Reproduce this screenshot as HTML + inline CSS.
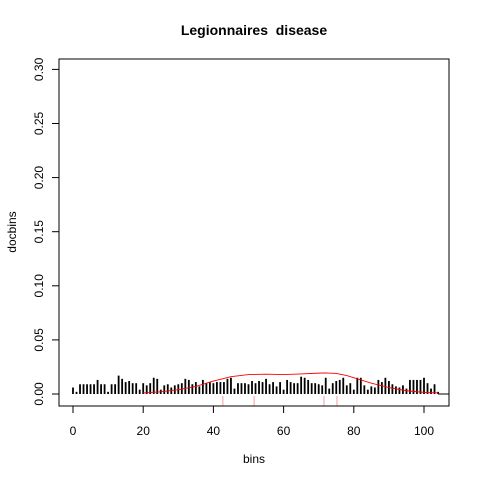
<!DOCTYPE html>
<html><head><meta charset="utf-8"><style>
body{margin:0;background:#fff}
svg{font-family:"Liberation Sans",sans-serif}
</style></head><body>
<svg id="c" width="480" height="480">
<text x="254" y="35" text-anchor="middle" font-weight="bold" font-size="14" style="white-space:pre">Legionnaires  disease</text>
<text x="254" y="463" text-anchor="middle" font-size="12">bins</text>
<text transform="translate(16,232) rotate(-90)" text-anchor="middle" font-size="12">docbins</text>
<rect x="59" y="59" width="390" height="347" fill="none" stroke="#000"/>
<g id="bars"></g>
<g id="axes"></g>
</svg>
<script>
const values=[0.006,0.002,0.009,0.009,0.009,0.009,0.009,0.013,0.009,0.009,0.002,0.009,0.009,0.017,0.014,0.011,0.012,0.010,0.010,0.004,0.010,0.008,0.010,0.015,0.014,0.004,0.008,0.009,0.006,0.008,0.009,0.010,0.014,0.013,0.009,0.011,0.007,0.013,0.010,0.011,0.010,0.011,0.011,0.011,0.014,0.015,0.005,0.010,0.010,0.010,0.009,0.012,0.010,0.012,0.011,0.014,0.009,0.011,0.007,0.011,0.004,0.013,0.011,0.010,0.010,0.016,0.015,0.013,0.010,0.010,0.009,0.008,0.015,0.005,0.010,0.012,0.013,0.015,0.008,0.010,0.004,0.015,0.015,0.008,0.004,0.007,0.006,0.013,0.011,0.015,0.012,0.009,0.007,0.006,0.008,0.005,0.013,0.013,0.013,0.013,0.015,0.010,0.005,0.009,0.002];
const curveX=[20,25,30,35,40,45,50,55,60,65,70,72,75,78,81,85,90,95,100,104];
const curveY=[0.001,0.002,0.004,0.007,0.012,0.016,0.018,0.0183,0.018,0.0185,0.0193,0.0195,0.019,0.017,0.014,0.010,0.006,0.003,0.0015,0.001];
const rug=[42.7,51.6,71.5,75.2];
const xTicks=[0,20,40,60,80,100];
const yTicks=[0,0.05,0.10,0.15,0.20,0.25,0.30];
const yLabels=["0.00","0.05","0.10","0.15","0.20","0.25","0.30"];
const X=v=>73+v*3.51, Y=v=>394-v*1082;
const NS="http://www.w3.org/2000/svg";
const bars=document.getElementById('bars'), axes=document.getElementById('axes');
function mk(t,a,p){const e=document.createElementNS(NS,t);for(const k in a)e.setAttribute(k,a[k]);(p||axes).appendChild(e);return e;}
values.forEach((v,i)=>{
 const r=mk('rect',{x:X(i)-0.9,y:Y(v),width:1.8,height:Y(0)-Y(v),fill:'#000'},bars);
 
 
});
const bl=mk('line',{x1:X(104),x2:449,y1:Y(0),y2:Y(0),stroke:'#000'});


const pl=mk('polyline',{points:curveX.map((x,i)=>X(x)+','+Y(curveY[i])).join(' '),fill:'none',stroke:'#f00','stroke-width':0.9});


rug.forEach(r=>{const l=mk('line',{x1:X(r),x2:X(r),y1:396,y2:406,stroke:'#f99'});
 
 });
mk('line',{x1:X(0),x2:X(100),y1:406,y2:406,stroke:'#000'});
xTicks.forEach(t=>{mk('line',{x1:X(t),x2:X(t),y1:406,y2:413,stroke:'#000'});
 const tx=mk('text',{x:X(t),y:435,'text-anchor':'middle','font-size':12});tx.textContent=t;
 
 });
mk('line',{x1:59,x2:59,y1:Y(0),y2:Y(0.30)});
yTicks.forEach((t,i)=>{mk('line',{x1:52,x2:59,y1:Y(t),y2:Y(t),stroke:'#000'});
 const tx=mk('text',{transform:`translate(43,${Y(t)}) rotate(-90)`,'text-anchor':'middle','font-size':12});tx.textContent=yLabels[i];
 
 });
</script>
</body></html>
